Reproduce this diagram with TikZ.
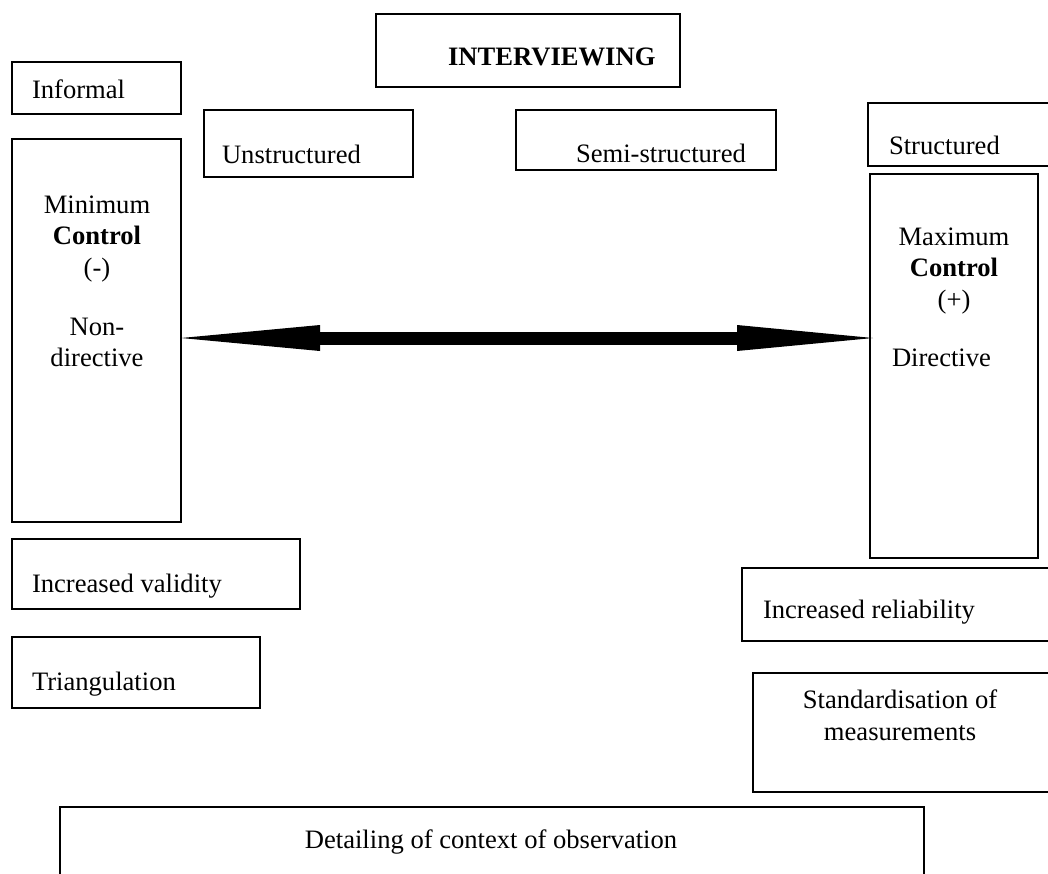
\documentclass[tikz,border=0pt]{standalone}
\usepackage{fontspec}
\setmainfont{Liberation Serif}
\usetikzlibrary{arrows.meta}

\tikzset{
  box/.style={draw=black, line width=2pt, rectangle, inner sep=0pt, outer sep=0pt, anchor=north west},
  lbl/.style={inner sep=0pt, outer sep=0pt, font=\fontsize{26.6}{31}\selectfont},
  lblw/.style={lbl, anchor=base west},
  lblc/.style={lbl, anchor=base, align=center},
  bigarrow/.style={line width=13pt,
    {Triangle[length=139pt, width=26pt, line width=0pt]}-{Triangle[length=136pt, width=26pt, line width=0pt]}}
}

% a box given by its top-left corner and its size
\newcommand{\panel}[5]{\node[box, minimum width=#4pt, minimum height=#5pt] (#1) at (#2,#3) {};}

\begin{document}
\begin{tikzpicture}[x=1pt, y=-1pt]
  \useasboundingbox (0,0) rectangle (1048,873);
  \clip (0,0) rectangle (1048,873);

  % frames
  \panel{inter}{376}{14}{304}{73}
  \panel{informal}{12}{62}{169}{52}
  \panel{unstruct}{204}{110}{209}{67}
  \panel{semi}{516}{110}{260}{60}
  \panel{struct}{868}{103}{200}{63}
  \panel{minbox}{12}{139}{169}{383}
  \panel{maxbox}{870}{174}{168}{384}
  \panel{validity}{12}{539}{288}{70}
  \panel{triang}{12}{637}{248}{71}
  \panel{reliab}{742}{568}{330}{73}
  \panel{standard}{753}{673}{320}{119}
  \panel{detail}{60}{807}{864}{90}

  % labels
  \node[lblw, font=\fontsize{26.6}{31}\selectfont\bfseries] (interT) at (448,65) {INTERVIEWING};
  \node[lblw] (informalT) at (32,98) {Informal};
  \node[lblw] (unstructT) at (222,163) {Unstructured};
  \node[lblw] (semiT) at (576,162) {Semi-structured};
  \node[lblw] (structT) at (889,154) {Structured};

  \node[lblc] (minT1) at (97,213) {Minimum};
  \node[lblc] (minT2) at (97,244) {\textbf{Control}};
  \node[lblc] (minT3) at (97,276) {(-)};
  \node[lblc] (minT4) at (97,335) {Non-};
  \node[lblc] (minT5) at (97,366) {directive};

  \node[lblc] (maxT1) at (954,245) {Maximum};
  \node[lblc] (maxT2) at (954,276) {\textbf{Control}};
  \node[lblc] (maxT3) at (954,308) {(+)};
  \node[lblw] (maxT4) at (892,366) {Directive};

  \node[lblw] (validityT) at (32,592) {Increased validity};
  \node[lblw] (triangT) at (32,690) {Triangulation};
  \node[lblw] (reliabT) at (763,618) {Increased reliability};
  \node[lblc] (standardT1) at (900,708) {Standardisation of};
  \node[lblc] (standardT2) at (900,740) {measurements};
  \node[lblc] (detailT) at (491,848) {Detailing of context of observation};

  % double-headed arrow between the two control boxes
  \coordinate (axis) at (500,338);
  \draw[bigarrow] (minbox.east |- axis) -- ([xshift=3pt]maxbox.west |- axis);
\end{tikzpicture}
\end{document}
